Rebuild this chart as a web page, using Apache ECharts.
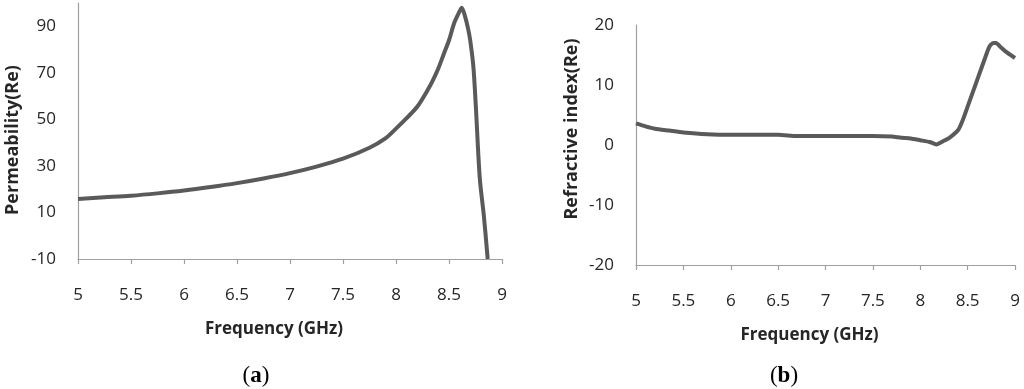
<!DOCTYPE html>
<html>
<head>
<meta charset="utf-8">
<script src="https://cdn.jsdelivr.net/npm/echarts@6/dist/echarts.min.js"></script>
<style>html,body{margin:0;padding:0;background:#fff;}#c{width:1024px;height:389px;}</style>
</head>
<body>
<div id="c"></div>
<script>
// Panel (a): permeability (Re) vs frequency
const freqA = [5.0,5.25,5.5,5.75,6.0,6.25,6.5,6.75,7.0,7.25,7.5,7.75,7.9,8.0,8.1,8.2,8.3,8.35,8.4,8.45,8.5,8.55,8.6,8.62,8.65,8.68,8.7,8.73,8.755,8.79,8.83,8.865];
const permA = [15.8,16.5,17.2,18.2,19.4,20.9,22.6,24.6,26.9,29.7,33.1,37.8,41.8,46.0,50.5,55.4,62.7,67,72,78,84,91.5,96.4,98,94.5,89,84,72.6,54,25,8,-10];
// Panel (b): refractive index (Re) vs frequency
const freqB = [5.0,5.1,5.2,5.35,5.5,5.75,6.0,6.5,6.7,7.0,7.5,7.7,7.8,7.9,8.0,8.1,8.17,8.25,8.3,8.4,8.45,8.5,8.6,8.7,8.73,8.77,8.8,8.85,8.9,9.0];
const refB  = [3.6,3.1,2.7,2.4,2.1,1.8,1.7,1.7,1.5,1.5,1.5,1.4,1.2,1.1,0.8,0.5,0.1,0.7,1.1,2.5,4.2,6.4,10.8,15.2,16.4,17.0,17.0,16.3,15.6,14.5];
const xTicks = [5,5.5,6,6.5,7,7.5,8,8.5,9];
const yTicksA = [-10,10,30,50,70,90];
const yTicksB = [-20,-10,0,10,20];
const captions = ['a','b'];

const txt = '#262626', axisC = '#a0a0a0', lineC = '#5a5a5a';
const FONT = 'Open Sans';

function xAxisCfg(idx){
  return {
    type:'value', gridIndex:idx, min:5, max:9, interval:0.5,
    name:'Frequency (GHz)', nameLocation:'middle', nameGap:62,
    nameTextStyle:{fontFamily:FONT,fontWeight:'bold',fontSize:17,color:txt,padding:[0,32,0,0]},
    axisLine:{show:true,onZero:false,lineStyle:{color:axisC,width:1.2}},
    axisTick:{show:true,length:5,inside:false,lineStyle:{color:axisC,width:1.2}},
    splitLine:{show:false},
    axisLabel:{fontFamily:FONT,fontSize:17,color:txt,margin:28,
      formatter:v=>xTicks.some(t=>Math.abs(t-v)<1e-6)?String(v):''}
  };
}
const option = {
  animation:false,
  backgroundColor:'#fff',
  grid:[
    {left:78, top:3, width:424, height:256},
    {left:636, top:25, width:379, height:240}
  ],
  xAxis:[xAxisCfg(0), xAxisCfg(1)],
  yAxis:[
    {type:'value', gridIndex:0, min:-10, max:100, interval:10,
     name:'Permeability(Re)', nameLocation:'middle', nameGap:56, nameRotate:90,
     nameTextStyle:{fontFamily:FONT,fontWeight:'bold',fontSize:18,color:txt,padding:[0,18,0,0]},
     axisLine:{show:true,onZero:false,lineStyle:{color:axisC,width:1.2}},
     axisTick:{show:false}, splitLine:{show:false},
     axisLabel:{fontFamily:FONT,fontSize:17,color:txt,margin:22,
       formatter:v=>yTicksA.includes(Math.round(v))?String(Math.round(v)):''}},
    {type:'value', gridIndex:1, min:-20, max:20, interval:10,
     name:'Refractive index(Re)', nameLocation:'middle', nameGap:55, nameRotate:90,
     nameTextStyle:{fontFamily:FONT,fontWeight:'bold',fontSize:18,color:txt,padding:[0,0,0,32]},
     axisLine:{show:true,onZero:false,lineStyle:{color:axisC,width:1.2}},
     axisTick:{show:false}, splitLine:{show:false},
     axisLabel:{fontFamily:FONT,fontSize:17,color:txt,margin:22,
       formatter:v=>yTicksB.includes(Math.round(v))?String(Math.round(v)):''}}
  ],
  series:[
    {type:'line', xAxisIndex:0, yAxisIndex:0, data:freqA.map((f,i)=>[f,permA[i]]),
     showSymbol:false, smooth:0.3, clip:true, lineStyle:{color:lineC,width:4}},
    {type:'line', xAxisIndex:1, yAxisIndex:1, data:freqB.map((f,i)=>[f,refB[i]]),
     showSymbol:false, smooth:0.2, clip:true, lineStyle:{color:lineC,width:4}}
  ],
  graphic:[
    {type:'text', x:256, y:376, style:{
      text:'{p|(}{b|'+captions[0]+'}{p|)}', align:'center', verticalAlign:'middle',
      rich:{p:{fontFamily:'Liberation Serif',fontSize:23,fill:'#000'},
            b:{fontFamily:'Liberation Serif',fontSize:23,fontWeight:'bold',fill:'#000'}}}},
    {type:'text', x:784, y:376, style:{
      text:'{p|(}{b|'+captions[1]+'}{p|)}', align:'center', verticalAlign:'middle',
      rich:{p:{fontFamily:'Liberation Serif',fontSize:23,fill:'#000'},
            b:{fontFamily:'Liberation Serif',fontSize:23,fontWeight:'bold',fill:'#000'}}}}
  ]
};
const chart = echarts.init(document.getElementById('c'), null, {renderer:'canvas'});
chart.setOption(option);
</script>
</body>
</html>
